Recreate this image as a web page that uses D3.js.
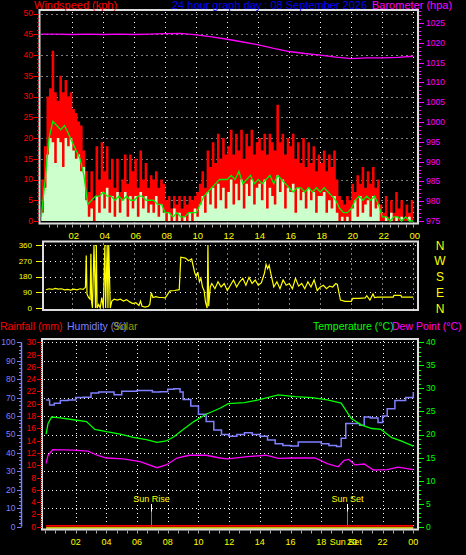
<!DOCTYPE html>
<html><head><meta charset="utf-8">
<script src="https://cdn.jsdelivr.net/npm/d3@7"></script>
<style>
html,body{margin:0;padding:0;background:#000;}
svg{display:block;}
text{font-family:"Liberation Sans",Arial,sans-serif;}
</style></head><body>
<svg id="c" width="466" height="555"></svg>
<script>
// ---------------- DATA ----------------
const titleText = "24 hour graph day : 08 September 2026";
const timeTickHours = [2,4,6,8,10,12,14,16,18,20,22,24];
const timeTickLabels = ["02","04","06","08","10","12","14","16","18","20","22","00"];

const gustStepHours = 1/6; // one sample every 10 minutes
const windGust = [10,18,30,32,41,31, 29,35,31,34,30,31, 27,26,24,23,17,12, 7,12,5,18,10,19, 12,18,10,15,8,15, 7,10,16,9,16,12, 15,8,17,10,14,8, 11,10,12,8,10,9, 5,6,3,6,4,6, 3,6,4,6,5,6, 7,9,12,8,17,13, 19,14,21,15,20,16, 18,22,16,21,17,22, 15,21,18,22,16,19, 20,17,21,16,21,19, 17,28,19,21,16,20, 18,21,15,19,14,20, 13,19,14,18,12,16, 14,17,12,16,13,17, 10,6,5,4,6,5, 9,7,11,9,13,8, 12,9,13,8,10,4, 2,6,1,5,2,7, 3,5,1,4,2,5, 1];
const windSpeed = [2,8,16,20,19,14, 20,19,13,20,18,20, 17,15,16,12,13,5, 1,3,0,6,2,7, 3,8,2,6,1,7, 2,5,7,1,6,3, 6,1,7,3,6,2, 4,2,6,1,4,2, 0,2,0,3,0,2, 0,1,0,2,0,3, 1,4,6,2,7,4, 8,3,9,5,8,3, 7,10,4,9,5,10, 3,9,6,10,4,8, 9,5,10,3,8,6, 4,11,7,10,3,8, 7,9,2,8,5,7, 3,8,5,7,2,6, 6,7,2,5,3,6, 2,0,1,0,1,0, 3,5,1,6,2,4, 5,1,6,3,4,0, 0,1,0,2,0,1, 0,1,0,0,1,0, 0];
const avgStepHours = 0.25; // one sample every 15 minutes
const windAvg = [1,10,20,24,23,22,23,21,19,17,15,11,4,5,6,6,7,6,6,5,6,5,6,5,5,6,6,5,5,5,4,4,2,2,1,2,1,1,2,2,2,4,6,7,8,9,10,10,10,11,10,12,9,10,11,9,10,9,10,11,9,11,10,9,8,7,8,8,7,8,7,8,7,8,7,6,5,3,2,2,3,5,6,5,6,5,6,4,1,1,0,1,1,0,1,0,0];

const baroHours = [0,1,2,3,4,5,6,7,8,9,10,11,12,13,14,15,16,17,18,19,20,21,22,23,24];
const baroValues = [1022.2,1022.2,1022.1,1022.2,1022.1,1022.2,1022.1,1022.2,1022.3,1022.4,1022.0,1021.5,1020.9,1020.2,1019.5,1018.6,1017.8,1017.3,1016.9,1016.4,1016.0,1016.2,1016.2,1016.3,1016.6];

const dirHours = [0.3,0.5,0.7,0.9,1.1,1.3,1.5,1.7,1.9,2.1,2.3,2.5,2.7,2.85,2.9,2.95,3.05,3.15,3.2,3.25,3.3,3.4,3.5,3.55,3.6,3.7,3.8,3.9,4.0,4.1,4.15,4.25,4.3,4.35,4.45,4.55,4.7,4.9,5.1,5.3,5.5,5.7,5.9,6.1,6.3,6.4,6.5,6.7,6.9,7.0,7.1,7.2,7.4,7.6,7.8,8.0,8.3,8.6,8.9,9.0,9.3,9.5,9.7,9.8,9.9,10.0,10.1,10.2,10.3,10.4,10.5,10.6,10.7,10.75,10.8,10.9,11.0,11.2,11.4,11.6,11.8,12.0,12.2,12.4,12.6,12.8,13.0,13.2,13.4,13.6,13.8,14.0,14.2,14.4,14.5,14.6,14.7,14.8,14.9,15.0,15.2,15.4,15.6,15.8,16.0,16.2,16.4,16.6,16.8,17.0,17.2,17.4,17.6,17.8,18.0,18.2,18.4,18.6,18.8,19.0,19.1,19.3,19.6,20.0,20.1,20.5,20.9,21.0,21.2,21.4,21.5,21.7,22.0,22.7,22.75,23.2,23.25,24];
const dirDeg = [104,110,106,112,108,110,104,106,102,108,104,110,106,118,300,80,60,50,310,30,0,360,0,360,0,20,0,60,0,360,0,360,0,360,0,40,50,45,50,40,48,35,25,30,15,40,10,5,10,20,88,60,65,60,60,58,98,100,105,290,285,270,280,240,200,180,205,150,170,120,100,30,0,360,10,120,140,110,150,120,140,100,130,160,120,150,170,130,175,140,160,130,145,200,250,225,245,200,160,120,150,110,160,130,140,110,170,125,140,110,150,120,160,100,120,130,110,125,120,140,135,45,38,38,55,55,58,70,45,80,60,62,62,62,72,72,62,62];
const compassLabels = ["N","W","S","E","N"];
const compassDeg = [360,270,180,90,0];

const humHours = [0.07,0.3,0.6,1.0,1.5,2.0,2.5,3.0,3.5,4.0,4.5,5.0,6.0,6.5,7.0,7.5,8.0,8.4,8.8,9.0,9.5,10.0,10.5,11.0,11.5,12.0,12.5,13.0,13.5,14.0,14.5,15.0,15.5,16.0,16.5,17.0,17.5,18.0,18.5,19.0,19.3,19.6,20.0,20.5,20.8,21.2,21.7,22.0,22.3,22.8,23.5,24.0];
const humValues = [68.7,66,67,68.5,68.7,70,70.2,72.5,73,73,71.5,73.5,73.8,73.8,73,73.2,74.5,74.8,73,69,65.5,61,57,52.5,50,49,50,51,50,49,47,45,44,43.8,46,46,46,45,44,43.5,48,56,56,55,59.5,59,56.5,60,64,68.5,70,73];

const tempHours = [0.07,0.2,0.43,1.0,1.85,2.7,3.25,4.0,4.9,5.75,6.6,7.3,7.9,8.4,9.0,9.7,10.5,11.4,11.95,13.0,13.9,15.2,16.3,17.4,18.4,19.3,19.95,20.6,21.3,21.9,22.6,23.2,24.0];
const tempValues = [20.1,22.4,23.8,23.6,23.2,22.8,21.1,20.6,20.1,19.4,18.9,18.3,18.6,19.5,21.1,22.8,24.4,25.7,26.7,26.9,27.5,28.6,28.2,28.0,27.5,26.8,23.5,22.1,21.3,21.1,19.3,18.6,17.5];

const dewHours = [0.07,0.2,0.5,1.85,2.8,3.4,4.0,5.1,6.2,7.3,7.9,8.6,9.4,10.5,11.4,11.9,13.2,14.4,15.2,16.3,17.6,18.4,19.1,19.5,19.8,20.2,20.8,21.4,22.3,23.0,24.0];
const dewValues = [13.75,15.5,16.7,16.6,16.4,15.5,14.9,14.7,14.1,12.8,13.4,14.9,15.5,15.5,14.9,14.7,15.2,15.5,14.8,14.9,14.9,13.7,13.0,14.4,14.6,13.4,13.6,12.3,12.4,12.9,12.4];

const rainHours = [0.07,24];
const rainValues = [0,0];
const solarHours = [0.07,24];
const solarValues = [0,0];

const sunRiseHour = 6.93;
const sunSetHour = 19.67;

// ---------------- DRAW ----------------
const svg = d3.select("#c");
svg.append("rect").attr("width",466).attr("height",555).attr("fill","#000");
const FRAME = "#dcdcdc";
const px = v => Math.round(v) + 0.5;

const pTop = {x0:39.5, x1:418, y0:10, y1:223.5};
const pMid = {x0:43, x1:418, y0:241.5, y1:310};
const pBot = {x0:42, x1:418, y0:339, y1:529.5};

const xTop = d3.scaleLinear().domain([0,24]).range([41.3,413.3]);
const yWind = d3.scaleLinear().domain([0,50]).range([221,13.5]);
const yBaro = d3.scaleLinear().domain([975,1025]).range([221,23]);
const xMid = d3.scaleLinear().domain([0,24]).range([41.3,413.3]);
const yDir = d3.scaleLinear().domain([0,360]).range([308,245]);
const xBot = d3.scaleLinear().domain([0,24]).range([45,413.3]);
const yHum = d3.scaleLinear().domain([0,100]).range([526.7,342.3]);
const yRain = d3.scaleLinear().domain([0,30]).range([526.7,342.3]);
const yTemp = d3.scaleLinear().domain([0,40]).range([526.7,342.3]);
const ySolar = d3.scaleLinear().domain([0,1000]).range([528,342.3]);

function hGrid(g, ys, x0, x1, dash){
  ys.forEach(y=>g.append("line").attr("x1",x0).attr("x2",x1).attr("y1",px(y)).attr("y2",px(y))
    .attr("stroke","#fff").attr("stroke-dasharray",dash));
}
function vGrid(g, xs, y0, y1, dash){
  xs.forEach(x=>g.append("line").attr("x1",px(x)).attr("x2",px(x)).attr("y1",y0).attr("y2",y1)
    .attr("stroke","#fff").attr("stroke-dasharray",dash));
}

// ---- top panel ----
const gT = svg.append("g");
hGrid(gT, d3.range(5,51,5).map(yWind), pTop.x0+2, pTop.x1-2, "1,4");
vGrid(gT, timeTickHours.map(xTop), pTop.y0+2, pTop.y1-1, "1,4");

const gustIdx = windGust.map((d,i)=>i);
const tG = i => xTop(i*gustStepHours);
gT.append("path").datum(gustIdx)
  .attr("d", d3.area().x(tG).y0(yWind(0)).y1(i=>yWind(windGust[i])).curve(d3.curveStepAfter))
  .attr("fill","#ff0000");
gT.append("path").datum(gustIdx)
  .attr("d", d3.area().x(tG).y0(yWind(0)).y1(i=>yWind(windSpeed[i])).curve(d3.curveStepAfter))
  .attr("fill","#ccffcc");
const avgIdx = windAvg.map((d,i)=>i);
gT.append("path").datum(avgIdx)
  .attr("d", d3.line().x(i=>xTop(i*avgStepHours)).y(i=>yWind(windAvg[i])))
  .attr("fill","none").attr("stroke","#00ee00").attr("stroke-width",1.3);
gT.append("path").datum(baroHours.map((h,i)=>[h,baroValues[i]]))
  .attr("d", d3.line().x(d=>xTop(d[0])).y(d=>yBaro(d[1])))
  .attr("fill","none").attr("stroke","#ff00ff").attr("stroke-width",1.3);

gT.append("rect").attr("x",pTop.x0).attr("y",pTop.y0).attr("width",pTop.x1-pTop.x0).attr("height",pTop.y1-pTop.y0)
  .attr("fill","none").attr("stroke",FRAME).attr("stroke-width",2);

d3.range(0,51,1).forEach(v=>{
  const major = v%5===0;
  gT.append("line").attr("x1", major?34:37).attr("x2",39).attr("y1",px(yWind(v))).attr("y2",px(yWind(v)))
    .attr("stroke","#ff0000");
});
d3.range(0,51,5).forEach(v=>{
  gT.append("text").attr("x",33).attr("y",yWind(v)).attr("dy","0.35em").attr("text-anchor","end")
    .attr("fill","#ff0000").attr("font-size",8.5).text(v);
});
d3.range(975,1029,1).forEach(v=>{
  const major = v%5===0;
  gT.append("line").attr("x1",419).attr("x2", major?424:421).attr("y1",px(yBaro(v))).attr("y2",px(yBaro(v)))
    .attr("stroke","#ff00ff");
});
d3.range(975,1026,5).forEach(v=>{
  gT.append("text").attr("x",426).attr("y",yBaro(v)).attr("dy","0.35em")
    .attr("fill","#ff00ff").attr("font-size",8.5).text(v);
});
d3.range(0.5,24.01,0.5).forEach(h=>{
  gT.append("line").attr("x1",px(xTop(h))).attr("x2",px(xTop(h))).attr("y1",224.5).attr("y2",227.5).attr("stroke","#aaa");
});
timeTickHours.forEach((h,i)=>{
  gT.append("text").attr("x",xTop(h)+1.5).attr("y",238.5).attr("text-anchor","middle")
    .attr("fill","#ffff00").attr("font-size",9.5).text(timeTickLabels[i]);
});

svg.append("text").attr("x",34).attr("y",9).attr("fill","#ff0000").attr("font-size",11).text("Windspeed (kph)");
svg.append("text").attr("x",172).attr("y",9).attr("fill","#0000ff").attr("font-size",11).text(titleText);
svg.append("text").attr("x",372).attr("y",9).attr("fill","#ff00ff").attr("font-size",11).text("Barometer (hpa)");

// ---- middle panel ----
const gM = svg.append("g");
hGrid(gM, [90,180,270,360].map(yDir), pMid.x0+2, pMid.x1-2, "1,4");
vGrid(gM, timeTickHours.map(xMid), pMid.y0+2, pMid.y1-1, "1,4");
gM.append("path").datum(dirHours.map((h,i)=>[h,dirDeg[i]]))
  .attr("d", d3.line().x(d=>xMid(d[0])).y(d=>yDir(d[1])))
  .attr("fill","none").attr("stroke","#ffff00").attr("stroke-width",1.2);
gM.append("rect").attr("x",pMid.x0).attr("y",pMid.y0).attr("width",pMid.x1-pMid.x0).attr("height",pMid.y1-pMid.y0)
  .attr("fill","none").attr("stroke",FRAME).attr("stroke-width",2);
[0,90,180,270,360].forEach(v=>{
  gM.append("line").attr("x1",36).attr("x2",42).attr("y1",px(yDir(v))).attr("y2",px(yDir(v))).attr("stroke","#ffff00");
  gM.append("text").attr("x",32).attr("y",yDir(v)).attr("dy","0.35em").attr("text-anchor","end")
    .attr("fill","#ffff00").attr("font-size",8).text(v);
});
compassLabels.forEach((l,i)=>{
  gM.append("text").attr("x",440).attr("y",yDir(compassDeg[i])+0.5).attr("dy","0.35em").attr("text-anchor","middle")
    .attr("fill","#ffff00").attr("font-size",12).text(l);
});

// ---- bottom panel ----
const gB = svg.append("g");
hGrid(gB, d3.range(10,101,10).map(yHum), pBot.x0+2, pBot.x1-2, "1,3");
vGrid(gB, timeTickHours.map(xBot), pBot.y0+2, pBot.y1-1, "1,3");
[[sunRiseHour,"Sun Rise"],[sunSetHour,"Sun Set"]].forEach(([h,l])=>{
  const x = px(xBot(h));
  gB.append("line").attr("x1",x).attr("x2",x).attr("y1",504).attr("y2",511.5).attr("stroke","#fff");
  gB.append("line").attr("x1",x).attr("x2",x).attr("y1",511.5).attr("y2",527).attr("stroke","#fff").attr("stroke-dasharray","1,1");
  gB.append("text").attr("x",x).attr("y",501.5).attr("text-anchor","middle").attr("fill","#ffff00").attr("font-size",9).text(l);
});

gB.append("path").datum(humHours.map((h,i)=>[h,humValues[i]]))
  .attr("d", d3.line().x(d=>xBot(d[0])).y(d=>yHum(d[1])).curve(d3.curveStepAfter))
  .attr("fill","none").attr("stroke","#7f7fff").attr("stroke-width",1.5);
gB.append("path").datum(tempHours.map((h,i)=>[h,tempValues[i]]))
  .attr("d", d3.line().x(d=>xBot(d[0])).y(d=>yTemp(d[1])))
  .attr("fill","none").attr("stroke","#00ff00").attr("stroke-width",1.3);
gB.append("path").datum(dewHours.map((h,i)=>[h,dewValues[i]]))
  .attr("d", d3.line().x(d=>xBot(d[0])).y(d=>yTemp(d[1])))
  .attr("fill","none").attr("stroke","#ff00ff").attr("stroke-width",1.3);
gB.append("path").datum(solarHours.map((h,i)=>[h,solarValues[i]]))
  .attr("d", d3.line().x(d=>xBot(d[0])).y(d=>ySolar(d[1])))
  .attr("fill","none").attr("stroke","#ffff00").attr("stroke-width",1.5);
gB.append("path").datum(rainHours.map((h,i)=>[h,rainValues[i]]))
  .attr("d", d3.line().x(d=>xBot(d[0])).y(d=>yRain(d[1])-0.8))
  .attr("fill","none").attr("stroke","#ff0000").attr("stroke-width",1.6);

gB.append("rect").attr("x",pBot.x0).attr("y",pBot.y0).attr("width",pBot.x1-pBot.x0).attr("height",pBot.y1-pBot.y0)
  .attr("fill","none").attr("stroke",FRAME).attr("stroke-width",2);

gB.append("line").attr("x1",21.5).attr("x2",21.5).attr("y1",yHum(100)).attr("y2",yHum(0)).attr("stroke","#7f7fff").attr("stroke-width",1.5);
d3.range(0,101,2).forEach(v=>{
  const major = v%10===0;
  gB.append("line").attr("x1",major?17:19).attr("x2",21.5).attr("y1",px(yHum(v))).attr("y2",px(yHum(v))).attr("stroke","#7f7fff");
});
d3.range(0,101,10).forEach(v=>{
  gB.append("text").attr("x",15.5).attr("y",yHum(v)).attr("dy","0.35em").attr("text-anchor","end")
    .attr("fill","#7f7fff").attr("font-size",8.5).text(v);
});
d3.range(0,91,1).forEach(k=>{
  const v = k/3;
  gB.append("line").attr("x1",40.5).attr("x2",42).attr("y1",px(yRain(v))).attr("y2",px(yRain(v))).attr("stroke","#ff0000");
});
d3.range(0,31,2).forEach(v=>{
  gB.append("line").attr("x1",37).attr("x2",42).attr("y1",px(yRain(v))).attr("y2",px(yRain(v))).attr("stroke","#ff0000");
  gB.append("text").attr("x",36).attr("y",yRain(v)).attr("dy","0.35em").attr("text-anchor","end")
    .attr("fill","#ff0000").attr("font-size",8.5).text(v);
});
d3.range(0,41,1).forEach(v=>{
  const major = v%5===0;
  gB.append("line").attr("x1",419).attr("x2",major?424:421).attr("y1",px(yTemp(v))).attr("y2",px(yTemp(v))).attr("stroke","#00ff00");
});
d3.range(0,41,5).forEach(v=>{
  gB.append("text").attr("x",426).attr("y",yTemp(v)).attr("dy","0.35em")
    .attr("fill","#00ff00").attr("font-size",8.5).text(v);
});
d3.range(0,37,1).forEach(k=>{
  const h = k*2/3;
  gB.append("line").attr("x1",px(xBot(h))).attr("x2",px(xBot(h))).attr("y1",530.5).attr("y2",533.5).attr("stroke","#aaa");
});
gB.append("text").attr("x",xBot(sunSetHour)-1).attr("y",544.5).attr("text-anchor","middle")
  .attr("fill","#ffff00").attr("font-size",9).text("Sun Set");
timeTickHours.forEach((h,i)=>{
  gB.append("text").attr("x",xBot(h)).attr("y",544.5).attr("text-anchor","middle")
    .attr("fill","#ffff00").attr("font-size",9).text(timeTickLabels[i]);
});

svg.append("text").attr("x",0).attr("y",330).attr("fill","#ff0000").attr("font-size",10.5).text("Rainfall (mm)");
svg.append("text").attr("x",67).attr("y",330).attr("fill","#7f7fff").attr("font-size",10.5).text("Humidity (%)");
svg.append("text").attr("x",113).attr("y",330).attr("fill","#999900").attr("font-size",10.5).text("Solar");
svg.append("text").attr("x",313).attr("y",330).attr("fill","#00ff00").attr("font-size",10.5).text("Temperature (°C)");
svg.append("text").attr("x",392).attr("y",330).attr("fill","#ff00ff").attr("font-size",10.5).text("Dew Point (°C)");
</script>
</body></html>
